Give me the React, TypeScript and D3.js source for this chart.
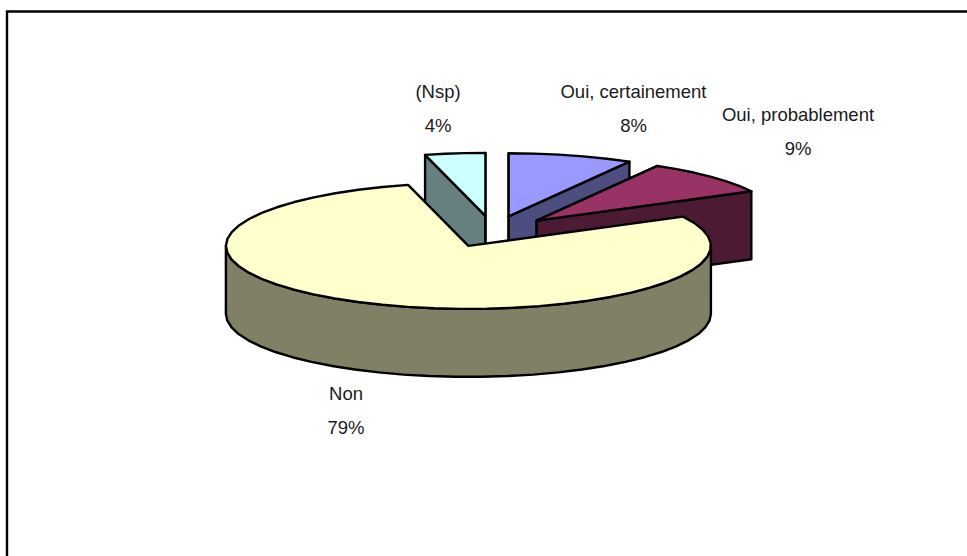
import React from "react";
import * as d3 from "d3";

const categories = ["Oui, certainement", "Oui, probablement", "Non", "(Nsp)"];
const values = [8.3, 9, 78.7, 4];
const percentLabels = ["8%", "9%", "79%", "4%"];
const topColors = ["#9999FF", "#993366", "#FFFFCC", "#CCFFFF"];
const sideColors = ["#4D4D80", "#4D1A33", "#808066", "#668080"];
const labelCentres: [number, number][] = [[633.5, 98], [798, 121], [346, 400], [438, 98]];

const W = 967, H = 556;
const CX = 493, CY = 231.5, RX = 242.5, RY = 63, DEPTH = 68, EXPLODE = 0.25;
const LINE_GAP = 33.5;
const TAU = Math.PI * 2;

const pie = d3.pie<number>().sort(null).startAngle(0).endAngle(TAU);
const arcs = pie(values);
const line = d3.line<[number, number]>().curve(d3.curveLinear);

function App() {
  const pt = (a: number, c: [number, number], r = 1, dy = 0): [number, number] => [
    c[0] + Math.sin(a) * RX * r,
    c[1] - Math.cos(a) * RY * r + dy,
  ];
  const rim = (a0: number, a1: number, c: [number, number], dy = 0) => {
    const n = Math.max(2, Math.ceil(Math.abs(a1 - a0) / 0.11));
    return d3.range(n + 1).map((i) => pt(a0 + ((a1 - a0) * i) / n, c, 1, dy));
  };
  const slices = arcs.map((d, i) => {
    const mid = (d.startAngle + d.endAngle) / 2;
    const apex = pt(mid, [CX, CY], EXPLODE);
    const { startAngle: s, endAngle: e } = d;
    const top = line([apex, ...rim(s, e, apex)]) + "Z";
    const walls: string[] = [];
    const wallQuad = (a: number) => {
      const p = pt(a, apex);
      return line([apex, p, [p[0], p[1] + DEPTH], [apex[0], apex[1] + DEPTH]]) + "Z";
    };
    // cut faces of the three small slices
    if (i !== 2) walls.push(wallQuad(s), wallQuad(e));
    // outer curved wall, the front half of the ellipse only
    const a0 = Math.max(s, Math.PI / 2);
    const a1 = Math.min(e, (3 * Math.PI) / 2);
    if (a1 > a0) {
      walls.push(line([...rim(a0, a1, apex), ...rim(a1, a0, apex, DEPTH)]) + "Z");
    }
    return { i, top, walls };
  });
  const order = [3, 0, 1, 2];
  return (
    <svg
      width={W}
      height={H}
      style={{ position: "absolute", left: 0, top: 0 }}
      fontFamily="'Liberation Sans', Arial, sans-serif"
    >
      <rect width={W} height={H} fill="#fff" />
      <path d="M7 566V11.5H977" fill="none" stroke="#000" strokeWidth={2.4} />
      {order.map((k) => {
        const s = slices[k];
        return (
          <g key={k} stroke="#000" strokeWidth={2.4} strokeLinejoin="round">
            {s.walls.map((w, j) => (
              <path key={j} d={w} fill={sideColors[k]} />
            ))}
            <path d={s.top} fill={topColors[k]} />
          </g>
        );
      })}
      {categories.map((c, i) => (
        <g key={c} textAnchor="middle" fontSize={18.5} fill="#1a1a1a">
          <text x={labelCentres[i][0]} y={labelCentres[i][1]}>
            {c}
          </text>
          <text x={labelCentres[i][0]} y={labelCentres[i][1] + LINE_GAP}>
            {percentLabels[i]}
          </text>
        </g>
      ))}
    </svg>
  );
}

export default App;
